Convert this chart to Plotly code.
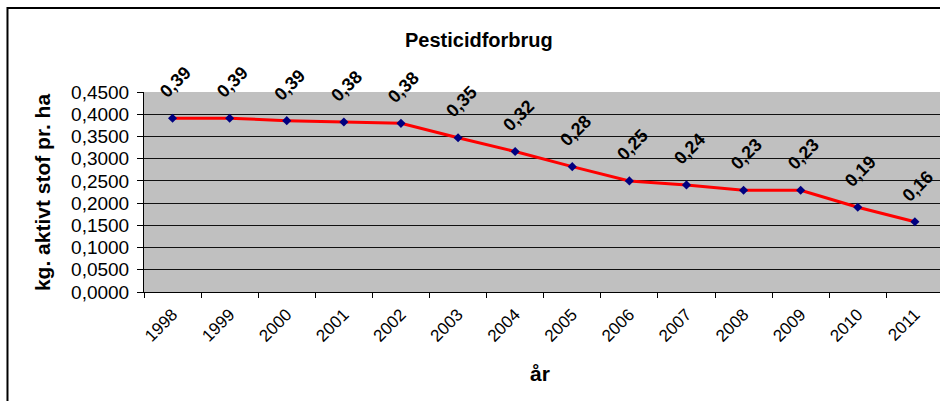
import plotly.graph_objects as go

years = ["1998", "1999", "2000", "2001", "2002", "2003", "2004",
         "2005", "2006", "2007", "2008", "2009", "2010", "2011"]
values = [0.391, 0.391, 0.3855, 0.3825, 0.3795, 0.347, 0.316,
          0.282, 0.250, 0.241, 0.229, 0.229, 0.1906, 0.158]
y_ticks = [0.0, 0.05, 0.10, 0.15, 0.20, 0.25, 0.30, 0.35, 0.40, 0.45]

FONT = "Liberation Sans, Arial, sans-serif"

fig = go.Figure()
fig.add_trace(go.Scatter(
    x=years, y=values, mode="lines+markers",
    line=dict(color="#FF0000", width=3),
    marker=dict(symbol="diamond", size=7, color="#000080"),
    hoverinfo="skip", showlegend=False,
))

annotations = []
for i, v in enumerate(values):
    annotations.append(dict(
        x=i, y=v, xref="x", yref="y",
        text="<b>" + f"{v:.2f}".replace(".", ",") + "</b>",
        showarrow=False, textangle=-45,
        xanchor="center", yanchor="middle",
        font=dict(family=FONT, size=18, color="black"),
        xshift=3, yshift=36,
    ))

annotations += [
    dict(text="<b>Pesticidforbrug</b>", xref="paper", yref="paper",
         x=0.421, y=1.26, showarrow=False, xanchor="center", yanchor="middle",
         font=dict(family=FONT, size=20, color="black")),
    dict(text="<b>kg. aktivt stof pr. ha</b>", xref="paper", yref="paper",
         x=-0.128, y=0.5, showarrow=False, textangle=-90,
         xanchor="center", yanchor="middle",
         font=dict(family=FONT, size=21, color="black")),
    dict(text="<b>år</b>", xref="paper", yref="paper",
         x=0.4975, y=-0.405, showarrow=False, xanchor="center", yanchor="middle",
         font=dict(family=FONT, size=21, color="black")),
]

fig.update_layout(
    width=940, height=401,
    margin=dict(l=144, r=0, t=92, b=109),
    paper_bgcolor="white",
    plot_bgcolor="#C0C0C0",
    annotations=annotations,
    separators=",.",
    shapes=[dict(type="rect", xref="paper", yref="paper",
                 x0=-0.1715, y0=1.42, x1=1.2, y1=-0.7,
                 line=dict(color="black", width=2), layer="above")],
)

fig.update_xaxes(
    type="category", range=[-0.5, 13.44],
    tickson="boundaries", ticks="outside", ticklen=5, tickcolor="black",
    tickangle=-45, tickfont=dict(family=FONT, size=17, color="black"),
    ticklabelstandoff=5,
    showline=True, linecolor="black", linewidth=1,
    showgrid=False, zeroline=False,
)
fig.update_yaxes(
    range=[0, 0.45], tickvals=y_ticks, tickformat=".4f",
    ticks="outside", ticklen=6, tickcolor="black",
    tickfont=dict(family=FONT, size=19, color="black"),
    ticklabelstandoff=4,
    showline=True, linecolor="black", linewidth=1,
    showgrid=True, gridcolor="#111111", gridwidth=1,
    zeroline=False,
)

fig.write_html("out.html",
               config={"displayModeBar": False},
               post_script="document.body.style.margin='0px';")
